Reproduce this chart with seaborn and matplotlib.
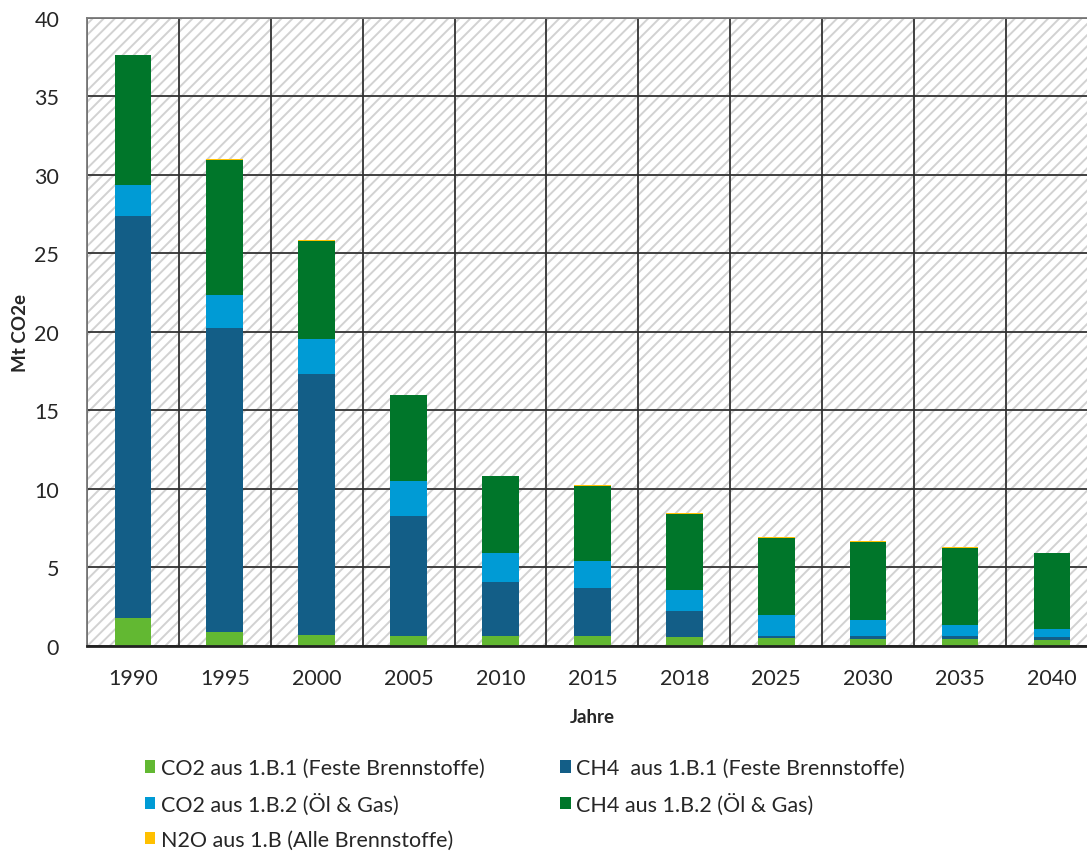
import pandas as pd
import numpy as np
import matplotlib
matplotlib.use('Agg')
import matplotlib.pyplot as plt
from matplotlib.patches import Patch, Rectangle
from matplotlib.ticker import MultipleLocator, FixedLocator
import seaborn as sns

# values (Mt CO2e)
jahre = ['1990', '1995', '2000', '2005', '2010', '2015', '2018', '2025', '2030', '2035', '2040']
co2_fest = [1.76, 0.87, 0.70, 0.66, 0.62, 0.64, 0.60, 0.49, 0.47, 0.45, 0.38]
ch4_fest = [25.61, 19.37, 16.64, 7.64, 3.44, 3.07, 1.61, 0.17, 0.17, 0.17, 0.22]
co2_oelgas = [1.99, 2.14, 2.21, 2.21, 1.88, 1.69, 1.36, 1.31, 1.01, 0.72, 0.46]
ch4_oelgas = [8.25, 8.57, 6.26, 5.45, 4.86, 4.79, 4.83, 4.92, 4.97, 4.89, 4.84]
n2o_alle = [0.05, 0.05, 0.05, 0.05, 0.05, 0.05, 0.05, 0.05, 0.05, 0.05, 0.05]

labels = ['CO2 aus 1.B.1 (Feste Brennstoffe)', 'CH4  aus 1.B.1 (Feste Brennstoffe)',
          'CO2 aus 1.B.2 (Öl & Gas)', 'CH4 aus 1.B.2 (Öl & Gas)',
          'N2O aus 1.B (Alle Brennstoffe)']
colors = ['#62B832', '#135E87', '#009BD5', '#00762A', '#FFC000']

df = pd.DataFrame({'Jahr': jahre, 'a': co2_fest, 'b': ch4_fest, 'c': co2_oelgas,
                   'd': ch4_oelgas, 'e': n2o_alle})
cols = ['a', 'b', 'c', 'd', 'e']
cum = df[cols].cumsum(axis=1)
cum['Jahr'] = df['Jahr']

sns.set_style('white')
plt.rcParams['font.family'] = ['Lato', 'DejaVu Sans']
plt.rcParams['hatch.linewidth'] = 1.4

fig = plt.figure(figsize=(10.87, 8.54), dpi=100)
ax = fig.add_axes([0.080, 0.2424, 0.930, 0.7354])

# stacked bars: draw the tallest cumulative layer first
for col, c in reversed(list(zip(cols, colors))):
    sns.barplot(data=cum, x='Jahr', y=col, color=c, saturation=1, width=0.4,
                errorbar=None, ax=ax, order=jahre, linewidth=0, zorder=2)

# hatched background
ax.add_patch(Rectangle((0, 0), 1, 1, transform=ax.transAxes, facecolor='white',
                       edgecolor='#d2d2d2', hatch='///', linewidth=0, zorder=0.1))

ax.set_xlim(-0.5, 10.5)
ax.set_ylim(0, 40)
ax.yaxis.set_major_locator(MultipleLocator(5))
ax.xaxis.set_minor_locator(FixedLocator(np.arange(-0.5, 11, 1)))
ax.set_axisbelow(True)
ax.yaxis.grid(True, which='major', color='#333333', linewidth=1.3)
ax.xaxis.grid(True, which='minor', color='#333333', linewidth=1.3)
ax.xaxis.grid(False, which='major')

ax.tick_params(axis='x', which='major', length=0, pad=16, labelsize=15.5)
ax.tick_params(axis='x', which='minor', length=8, width=2, color='#222222', direction='out')
ax.tick_params(axis='y', length=0, pad=20, labelsize=15.5)

for s in ['left', 'top', 'right']:
    ax.spines[s].set_color('#7a7a7a')
    ax.spines[s].set_linewidth(1.3)
ax.spines['bottom'].set_color('#222222')
ax.spines['bottom'].set_linewidth(2)

ax.set_ylabel('Mt CO2e', fontsize=13.5, fontweight='bold', labelpad=4)
ax.set_xlabel('Jahre', fontsize=13.5, fontweight='bold', labelpad=14)

handles = [Patch(facecolor=c, edgecolor='none') for c in colors]
order = [0, 2, 4, 1, 3]
fig.legend([handles[i] for i in order], [labels[i] for i in order],
           loc='upper left', bbox_to_anchor=(0.133, 0.111), ncol=2, frameon=False,
           fontsize=15.5, handlelength=0.5, handleheight=0.5, handletextpad=0.25,
           labelspacing=0.68, columnspacing=3.5, borderaxespad=0, borderpad=0)

plt.savefig('out.png', dpi=100)
